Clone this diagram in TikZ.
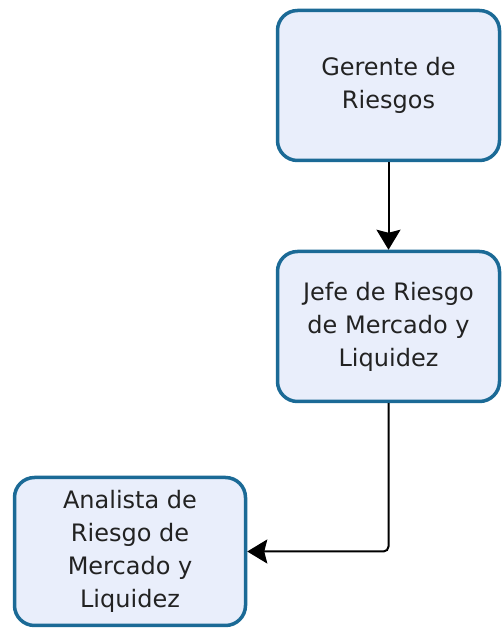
\documentclass[tikz,border=0pt]{standalone}
\usepackage{fontspec}
\setmainfont{DejaVu Sans}
\usepackage{tikz}
\usetikzlibrary{arrows.meta}
\definecolor{boxblue}{HTML}{1B6A96}
\definecolor{boxfill}{HTML}{E9EEFB}
\definecolor{textgray}{HTML}{222222}
\tikzset{
  cargo/.style={shape=rectangle, rounded corners=20pt, draw=boxblue, fill=boxfill,
    line width=3.5pt, align=center, inner sep=0pt, text=textgray,
    font=\fontsize{24}{33}\selectfont},
  jerarquia/.style={line width=2pt, -{Stealth[width=24pt,length=20pt,inset=3pt]}}
}

\begin{document}
\begin{tikzpicture}[x=1pt,y=1pt]
\useasboundingbox (0,0) rectangle (501,629);
\node[cargo, minimum width=222pt, minimum height=150pt](gerente) at (388.5,543.5) {Gerente de\\Riesgos};
\node[cargo, minimum width=222pt, minimum height=150pt](jefe) at (388.5,302.5) {Jefe de Riesgo\\de Mercado y\\Liquidez};
\node[cargo, minimum width=231pt, minimum height=148pt](analista) at (130,77.5) {Analista de\\Riesgo de\\Mercado y\\Liquidez};

\path[jerarquia] (gerente) edge (jefe);
\draw[jerarquia, rounded corners=5pt] (jefe.south) |- (analista.east);
\end{tikzpicture}
\end{document}
